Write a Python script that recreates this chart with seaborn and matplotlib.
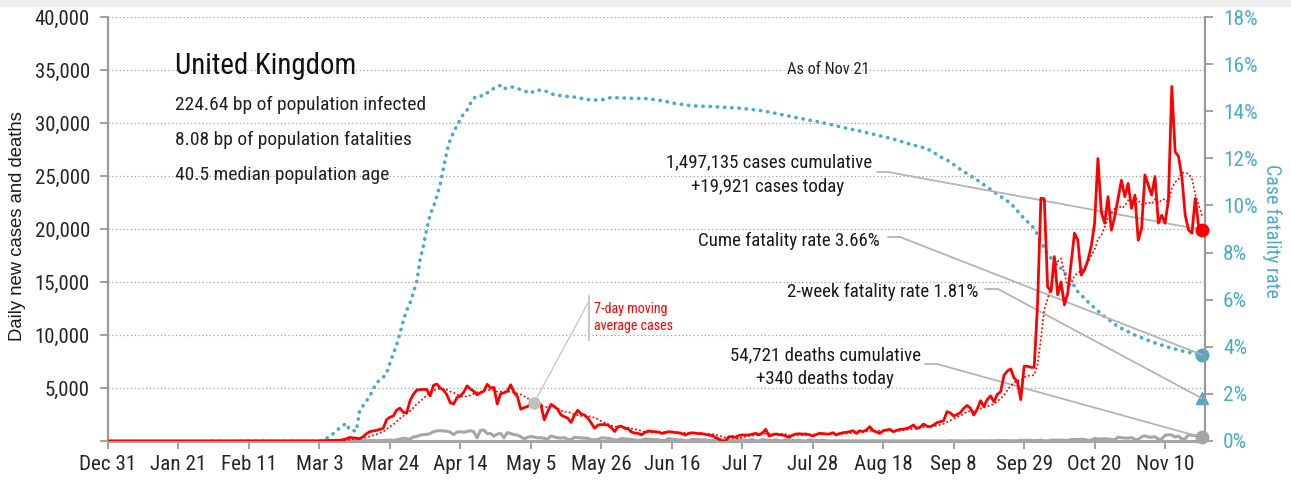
import pandas as pd
import numpy as np
import seaborn as sns
import matplotlib.pyplot as plt
import matplotlib.dates as mdates
from matplotlib import font_manager as fm
from matplotlib.textpath import TextPath
from matplotlib.lines import Line2D
from matplotlib.patches import Rectangle

sns.set_style("white")
plt.rcParams['font.family'] = ['Liberation Sans', 'DejaVu Sans']

# daily new cases, Dec 31 2019 .. Nov 21 2020 (one value per day)
cases = (
    [0] * 31 + [2] + [0] * 6 + [1, 0, 0, 4] + [0] * 14 + [4, 0, 2, 5, 3]
    # Mar 1 - Mar 31
    + [10, 5, 15, 35, 30, 50, 45, 70, 60, 120, 200, 340, 300, 250, 220, 400,
       680, 880, 950, 1000, 1100, 1200, 2000, 2250, 2350, 2900, 3100, 2700, 2650, 3800, 4400]
    # Apr
    + [4800, 4850, 4870, 4850, 4250, 5250, 5380, 5000, 4800, 4350, 3600, 3500, 4100, 4250, 4600,
       5200, 4900, 4700, 4350, 4550, 4700, 5350, 5000, 5050, 3500, 4450, 4550, 4700, 5300, 4600]
    # May
    + [4200, 3000, 3150, 3250, 3500, 3650, 3700, 3400, 2000, 2750, 3450, 3250, 3000, 2450, 2300, 2150,
       1750, 2450, 2900, 2550, 2450, 2150, 1700, 1200, 1500, 1550, 1550, 1500, 1250, 900, 1350]
    # Jun
    + [1400, 1200, 1150, 850, 750, 720, 580, 800, 950, 900, 880, 850, 720, 780, 880,
       850, 800, 780, 700, 570, 700, 780, 740, 700, 700, 620, 570, 500, 350, 170]
    # Jul
    + [0, 0, 400, 420, 350, 520, 580, 560, 570, 650, 720, 580, 750, 1100, 470, 580,
       660, 600, 560, 470, 350, 550, 660, 680, 650, 660, 600, 470, 600, 720, 700]
    # Aug
    + [660, 660, 780, 570, 700, 780, 820, 880, 970, 720, 970, 880, 1050, 1350, 970, 850,
       720, 970, 1040, 1100, 880, 1000, 1100, 1100, 1190, 1300, 1510, 1190, 1300, 1600, 1400]
    # Sep
    + [1350, 1500, 1730, 1820, 1900, 2770, 2650, 2360, 2500, 2670, 3080, 3350, 3100, 2450, 3000,
       3800, 3250, 3900, 4250, 3700, 4400, 4650, 6200, 6600, 6800, 5950, 5600, 3900, 7050, 7050]
    # Oct
    + [6950, 6950, 12900, 22900, 22850, 14550, 14100, 17400, 13800, 15000, 12850, 13950, 16750, 19600,
       18950, 15650, 16150, 17050, 18350, 20550, 26650, 21600, 20550, 23050, 19900, 21150, 22900,
       24600, 23050, 24300, 21950]
    # Nov 1 - Nov 21
    + [23200, 18950, 20050, 25100, 24150, 23200, 24950, 20550, 21300, 20550, 22750, 33450, 27300,
       26850, 24950, 21300, 19900, 19600, 22900, 20250, 19921]
)

# daily new deaths, same days
deaths = (
    [0] * 70
    + [1, 2, 2, 1, 11, 14, 20, 16, 33, 40, 33, 56, 48, 54, 87, 41, 115, 181, 260, 209, 180, 381]
    + [420, 560, 600, 620, 700, 880, 950, 970, 950, 920, 830, 600, 850, 880, 830,
       900, 970, 870, 300, 1000, 1040, 700, 720, 450, 650, 720, 300, 800, 700, 600]
    + [560, 400, 200, 350, 420, 380, 300, 310, 250, 180, 470, 380, 300, 280, 320, 150,
       140, 350, 320, 290, 280, 250, 120, 120, 130, 300, 280, 250, 200, 110, 100]
    + [250, 200, 180, 150, 110, 60, 80, 200, 180, 150, 150, 110, 40, 50, 230,
       180, 130, 120, 100, 30, 40, 150, 150, 140, 100, 100, 40, 25, 150, 170]
    + [90, 130, 60, 20, 15, 150, 90, 80, 60, 140, 20, 10, 140, 90, 60, 40,
       110, 30, 10, 110, 80, 80, 60, 80, 10, 10, 100, 80, 40, 60, 70]
    + [20, 8, 18, 20, 20, 10, 5, 8, 15, 10, 12, 18, 3, 5, 18, 15,
       10, 12, 6, 4, 10, 15, 10, 8, 10, 6, 3, 14, 12, 10, 2]
    + [3, 12, 10, 2, 2, 3, 32, 8, 14, 9, 9, 5, 20, 20, 21,
       21, 27, 18, 37, 11, 37, 40, 40, 34, 17, 17, 13, 71, 59, 66]
    + [59, 33, 49, 76, 19, 14, 76, 77, 87, 81, 65, 50, 143, 137, 138, 150,
       136, 67, 80, 241, 191, 189, 224, 174, 151, 102, 367, 310, 280, 274, 326]
    + [162, 136, 397, 492, 378, 355, 413, 156, 194, 532, 595, 563, 376, 462, 168,
       213, 598, 529, 501, 511, 340]
)

# cumulative case fatality rate (%), read at these dates
cfr_dates = ['2020-01-31', '2020-02-26', '2020-03-03', '2020-03-05', '2020-03-07', '2020-03-09',
             '2020-03-11', '2020-03-12', '2020-03-14', '2020-03-15', '2020-03-18', '2020-03-19',
             '2020-03-20', '2020-03-21', '2020-03-22', '2020-03-23', '2020-03-24', '2020-03-25',
             '2020-03-26', '2020-03-27', '2020-03-28', '2020-03-29', '2020-03-30', '2020-03-31',
             '2020-04-01', '2020-04-02', '2020-04-03', '2020-04-04', '2020-04-05', '2020-04-06',
             '2020-04-07', '2020-04-08', '2020-04-09', '2020-04-10', '2020-04-11', '2020-04-12',
             '2020-04-13', '2020-04-14', '2020-04-15', '2020-04-16', '2020-04-17', '2020-04-18',
             '2020-04-19', '2020-04-21', '2020-04-23', '2020-04-26', '2020-04-27', '2020-04-29',
             '2020-05-01', '2020-05-05', '2020-05-06', '2020-05-08', '2020-05-10', '2020-05-12',
             '2020-05-18', '2020-05-23', '2020-05-27', '2020-05-29', '2020-05-31', '2020-06-04',
             '2020-06-09', '2020-06-13', '2020-06-17', '2020-06-22', '2020-06-29', '2020-07-07',
             '2020-07-13', '2020-07-17', '2020-07-22', '2020-07-27', '2020-08-01', '2020-08-06',
             '2020-08-11', '2020-08-16', '2020-08-21', '2020-08-26', '2020-08-31', '2020-09-04',
             '2020-09-07', '2020-09-09', '2020-09-15', '2020-09-20', '2020-09-25', '2020-09-29',
             '2020-10-02', '2020-10-04', '2020-10-06', '2020-10-09', '2020-10-11', '2020-10-13',
             '2020-10-15', '2020-10-19', '2020-10-23', '2020-10-27', '2020-11-01', '2020-11-06',
             '2020-11-11', '2020-11-16', '2020-11-21']
cfr_values = [0.0, 0.0, 0.0, 0.1, 0.3, 0.55, 0.75, 0.47, 0.42, 1.3,
              1.9, 2.2, 2.45, 2.6, 2.7, 2.87, 3.3, 3.7, 4.07, 4.57,
              5.1, 5.56, 5.85, 6.3, 6.76, 7.7, 8.3, 9.0, 9.6, 9.95,
              10.4, 10.9, 11.6, 12.3, 12.8, 13.1, 13.4, 13.65, 13.9, 14.05,
              14.33, 14.55, 14.65, 14.65, 14.9, 15.1, 14.95, 15.04, 14.97, 14.76,
              14.87, 14.9, 14.83, 14.69, 14.6, 14.47, 14.5, 14.59, 14.57, 14.55,
              14.53, 14.45, 14.33, 14.23, 14.19, 14.12, 14.02, 13.91, 13.76, 13.62,
              13.48, 13.31, 13.16, 12.99, 12.82, 12.6, 12.42, 12.07, 11.85, 11.62,
              11.08, 10.58, 10.09, 9.45, 9.03, 8.46, 7.9, 7.5, 7.15, 6.8,
              6.34, 5.77, 5.28, 4.85, 4.5, 4.21, 3.98, 3.79, 3.66]

country = 'United Kingdom'
as_of = 'Nov 21'
info_lines = ['224.64 bp of population infected', '8.08 bp of population fatalities',
              '40.5 median population age']
cum_cases = 1497135
cum_deaths = 54721
cume_cfr = 3.66
two_week_cfr = 1.81

RED = '#ff0000'
TEAL = '#4bacc6'
GREY = '#a6a6a6'
LINEGREY = '#b4b4b4'
W, H = 1291, 482


# pick a narrow font if one is installed, the original uses a condensed face
def pick_font():
    entries = fm.fontManager.ttflist
    regular = lambda e: e.style == 'normal' and str(e.weight) in ('400', 'normal', 'regular', 'book')
    for name in ['Liberation Sans Narrow', 'Roboto Condensed', 'DejaVu Sans Condensed',
                 'Noto Sans Condensed', 'Open Sans Condensed']:
        for e in entries:
            if e.name == name and regular(e):
                return fm.FontProperties(fname=e.fname)
    for e in entries:
        if e.stretch in ('condensed', 'semi-condensed') and regular(e):
            return fm.FontProperties(fname=e.fname)
    for e in entries:
        if e.name == 'Roboto' and regular(e):
            return fm.FontProperties(fname=e.fname)
    return fm.FontProperties(family='DejaVu Sans')


NARROW = pick_font()
PLAIN = fm.FontProperties(family=['Liberation Sans', 'DejaVu Sans'])


def fp(size, base=NARROW):
    p = base.copy()
    p.set_size(size)
    return p


def fit(s, px, base=NARROW):
    # font size that gives the text an ink width of px pixels at 100 dpi
    w = TextPath((0, 0), s, size=10, prop=base).get_extents().width
    return 10 * px / (w * 100 / 72)


dates = pd.date_range('2019-12-31', periods=len(cases), freq='D')
df = pd.DataFrame({'date': dates, 'cases': cases, 'deaths': deaths})
df['ma'] = df['cases'].rolling(7, min_periods=1).mean()
cfr_df = pd.DataFrame({'date': pd.to_datetime(cfr_dates), 'cfr': cfr_values})

fig = plt.figure(figsize=(W / 100, H / 100), dpi=100)
fig.patches.append(Rectangle((0, 1 - 6 / H), 1, 6 / H, transform=fig.transFigure,
                             color='#efefef', zorder=0))
ax = fig.add_axes([108 / W, 41 / H, (1205 - 108) / W, (441 - 17) / H])
ax2 = ax.twinx()

sns.lineplot(data=df, x='date', y='deaths', ax=ax, color=GREY, lw=2.2, zorder=3)
sns.lineplot(data=df, x='date', y='ma', ax=ax, color=RED, lw=1.4, zorder=4,
             linestyle=(0, (0.1, 2.0)), dash_capstyle='round')
sns.lineplot(data=df, x='date', y='cases', ax=ax, color=RED, lw=2.0, zorder=5)
sns.lineplot(data=cfr_df, x='date', y='cfr', ax=ax2, color=TEAL, lw=2.6,
             linestyle=(0, (0.1, 1.9)), dash_capstyle='round')

last = dates[-1]
ax.plot(last, cases[-1], 'o', color=RED, ms=9, zorder=6, clip_on=False)
ax.plot(last, deaths[-1], 'o', color=GREY, ms=9, zorder=6, clip_on=False)
ax2.plot(last, cume_cfr, 'o', color=TEAL, ms=9, clip_on=False)
ax2.plot(last, two_week_cfr, '^', color=TEAL, ms=9, clip_on=False)

# axes limits and ticks
ax.set_xlim(dates[0], dates[0] + pd.Timedelta(days=326.9))
ax.set_ylim(0, 40000)
ax2.set_ylim(0, 18)
xt = pd.date_range(dates[0], dates[-1], freq='21D')
ax.set_xticks(xt)
ax.set_xticklabels([f'{d:%b} {d.day}' for d in xt], fontproperties=fp(fit('Dec 31', 52)))
yt = list(range(0, 40001, 5000))
ax.set_yticks(yt)
ax.set_yticklabels(['' if v == 0 else f'{v:,}' for v in yt], fontproperties=fp(fit('40,000', 54)))
ax2.set_yticks(range(0, 19, 2))
ax2.set_yticklabels([f'{v}%' for v in range(0, 19, 2)], fontproperties=fp(fit('16%', 32)), color=TEAL)

ax.yaxis.grid(True, linestyle=(0, (1, 2)), color='#a0a0a0', lw=0.9)
ax.xaxis.grid(False)
for a in (ax, ax2):
    a.spines['top'].set_visible(False)
    a.spines['left'].set_color('#999999')
    a.spines['right'].set_color('#999999')
    a.spines['bottom'].set_color('#a6a6a6')
    a.spines['left'].set_linewidth(1.5)
    a.spines['right'].set_linewidth(1.5)
    a.spines['bottom'].set_linewidth(2.2)
ax.tick_params(axis='x', direction='out', length=6, width=1.3, color='#999999', bottom=True, pad=4)
ax.tick_params(axis='y', direction='out', length=6, width=1.3, color='#999999', left=True, pad=7)
ax2.tick_params(axis='y', direction='out', length=6, width=1.3, color='#999999', right=True, pad=7)
ax.set_xlabel('')
ax.set_ylabel('')
ax2.set_ylabel('')
ax.set_zorder(ax2.get_zorder() + 1)
ax.patch.set_visible(False)


def fx(px):
    return px / W


def fy(py):
    return 1 - py / H


def label(x, y, s, px, ha='left', color='#1a1a1a', base=NARROW, size=None, **kw):
    size = size or fit(s, px, base)
    return fig.text(fx(x), fy(y), s, fontproperties=fp(size, base), ha=ha, va='baseline',
                    color=color, **kw)


# axis titles
label(18, 226, 'Daily new cases and deaths', 0, ha='center', base=PLAIN,
      size=fit('Daily new cases and deaths', 228, PLAIN), rotation=90).set_va('center')
label(1272, 231, 'Case fatality rate', 132, ha='center', color=TEAL, rotation=270).set_va('center')

# title block
label(175, 74, country, 177, color='#111111')
info_size = fit(info_lines[0], 248)
for i, line in enumerate(info_lines):
    label(175, 110 + 35 * i, line, 0, size=info_size, color='#222222')
label(828, 74, f'As of {as_of}', 79, ha='center', color='#222222')

# callouts
call_size = fit(f'{cum_cases:,} cases cumulative', 205)
label(769, 167, f'{cum_cases:,} cases cumulative', 0, ha='center', size=call_size)
label(768, 192, f'+{cases[-1]:,} cases today', 0, ha='center', size=call_size)
label(880, 246, f'Cume fatality rate {cume_cfr:.2f}%', 0, ha='right', size=call_size)
label(978, 297, f'2-week fatality rate {two_week_cfr:.2f}%', 0, ha='right', size=call_size)
label(825, 360, f'{cum_deaths:,} deaths cumulative', 0, ha='center', size=call_size)
label(825, 384, f'+{deaths[-1]:,} deaths today', 0, ha='center', size=call_size)


def callout(x0, x1, y0, a, target):
    fig.add_artist(Line2D([fx(x0), fx(x1)], [fy(y0), fy(y0)], color=LINEGREY, lw=1.3))
    a.annotate('', xy=target, xycoords='data', xytext=(x1, H - y0), textcoords='figure pixels',
               arrowprops=dict(arrowstyle='-', color=LINEGREY, lw=1.3, shrinkA=0, shrinkB=0),
               annotation_clip=False)


callout(877, 888, 172, ax, (mdates.date2num(last), cases[-1]))
callout(888, 900, 237, ax2, (mdates.date2num(last), cume_cfr))
callout(985, 998, 289, ax2, (mdates.date2num(last), two_week_cfr))
callout(925, 937, 364, ax, (mdates.date2num(last), deaths[-1]))

# 7-day moving average callout
ma_day = pd.Timestamp('2020-05-06')
ma_val = df.loc[df['date'] == ma_day, 'ma'].iloc[0]
ax.plot(ma_day, ma_val, 'o', color='#c0c0c0', ms=8, zorder=7)
ax.annotate('', xy=(mdates.date2num(ma_day), ma_val), xycoords='data', xytext=(588, H - 303),
            textcoords='figure pixels',
            arrowprops=dict(arrowstyle='-', color='#c8c8c8', lw=1.0, shrinkA=0, shrinkB=0))
fig.add_artist(Line2D([fx(589), fx(589)], [fy(296), fy(340)], color='#c8c8c8', lw=1.5))
ma_size = fit('average cases', 78)
label(594, 313, '7-day moving', 0, size=ma_size, color=RED)
label(594, 330, 'average cases', 0, size=ma_size, color=RED)

fig.savefig('out.png', dpi=100)
